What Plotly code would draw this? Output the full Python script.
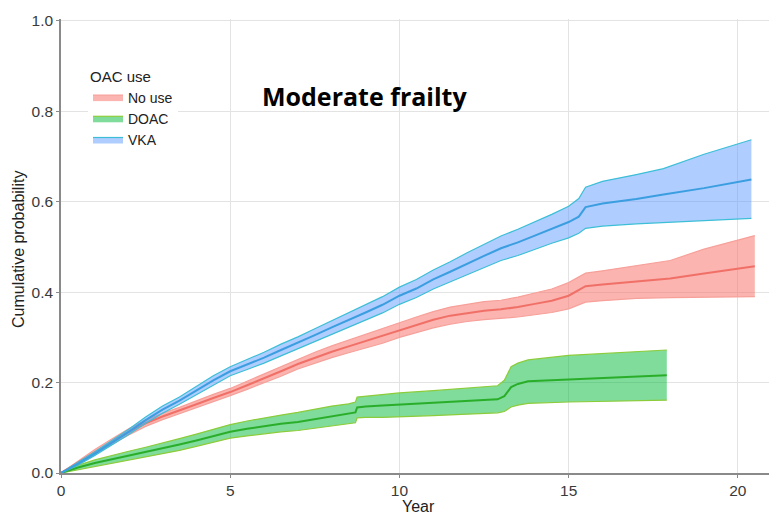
import plotly.graph_objects as go

# ---- data ----
groups = ["No use", "DOAC", "VKA"]

t_nouse = [0, 0.5, 1, 1.5, 2, 2.5, 3, 3.5, 4, 4.5, 5, 5.5, 6, 6.5, 7, 7.5, 8, 8.5, 9, 9.5,
           10, 10.5, 11, 11.5, 12, 12.5, 13, 13.5, 14, 14.5, 15, 15.3, 15.5, 16, 17, 18, 19, 20.5]
est_nouse = [0, 0.023, 0.047, 0.069, 0.091, 0.110, 0.125, 0.138, 0.152, 0.166, 0.179, 0.194,
             0.209, 0.225, 0.241, 0.255, 0.268, 0.280, 0.292, 0.303, 0.316, 0.328, 0.339, 0.348,
             0.354, 0.359, 0.362, 0.367, 0.374, 0.381, 0.392, 0.404, 0.413, 0.417, 0.423, 0.430,
             0.441, 0.457]
lo_nouse = [0, 0.020, 0.042, 0.063, 0.084, 0.103, 0.118, 0.131, 0.144, 0.158, 0.171, 0.185,
            0.199, 0.214, 0.230, 0.243, 0.255, 0.266, 0.277, 0.287, 0.300, 0.311, 0.321, 0.329,
            0.335, 0.339, 0.342, 0.345, 0.350, 0.355, 0.363, 0.372, 0.378, 0.381, 0.386, 0.388,
            0.389, 0.390]
hi_nouse = [0, 0.026, 0.052, 0.075, 0.098, 0.117, 0.132, 0.145, 0.160, 0.174, 0.187, 0.203,
            0.219, 0.236, 0.252, 0.267, 0.281, 0.294, 0.307, 0.319, 0.332, 0.345, 0.357, 0.367,
            0.373, 0.379, 0.382, 0.389, 0.398, 0.407, 0.421, 0.434, 0.442, 0.447, 0.458, 0.470,
            0.495, 0.525]

t_doac = [0, 0.5, 1, 1.5, 2, 2.5, 3, 3.5, 4, 4.5, 5, 5.5, 6, 6.5, 7, 7.5, 8, 8.5, 8.7, 8.75,
          9, 9.5, 10, 11, 12, 12.9, 13.1, 13.3, 13.5, 13.8, 15, 16, 17, 17.9]
est_doac = [0, 0.012, 0.022, 0.030, 0.038, 0.046, 0.054, 0.063, 0.072, 0.082, 0.091, 0.098,
            0.104, 0.109, 0.113, 0.119, 0.125, 0.130, 0.134, 0.145, 0.147, 0.149, 0.151, 0.155,
            0.159, 0.163, 0.170, 0.190, 0.197, 0.203, 0.207, 0.210, 0.213, 0.216]
lo_doac = [0, 0.007, 0.015, 0.021, 0.028, 0.035, 0.042, 0.050, 0.059, 0.068, 0.077, 0.082,
           0.087, 0.091, 0.094, 0.099, 0.104, 0.108, 0.111, 0.122, 0.123, 0.123, 0.124, 0.127,
           0.130, 0.133, 0.136, 0.146, 0.150, 0.154, 0.157, 0.158, 0.160, 0.161]
hi_doac = [0, 0.017, 0.029, 0.039, 0.048, 0.057, 0.066, 0.076, 0.086, 0.097, 0.107, 0.115,
           0.122, 0.128, 0.134, 0.141, 0.148, 0.153, 0.157, 0.168, 0.170, 0.173, 0.177, 0.182,
           0.187, 0.193, 0.205, 0.235, 0.243, 0.250, 0.260, 0.264, 0.268, 0.272]

t_vka = [0, 0.5, 1, 1.5, 2, 2.5, 3, 3.5, 4, 4.5, 5, 5.5, 6, 6.5, 7, 7.5, 8, 8.5, 9, 9.5,
         10, 10.5, 11, 11.5, 12, 12.5, 13, 13.5, 14, 14.5, 15, 15.3, 15.5, 16, 17, 17.8, 19, 20.4]
est_vka = [0, 0.020, 0.043, 0.067, 0.091, 0.117, 0.140, 0.160, 0.182, 0.205, 0.225, 0.240,
           0.255, 0.272, 0.288, 0.305, 0.322, 0.338, 0.355, 0.372, 0.392, 0.408, 0.428, 0.445,
           0.463, 0.480, 0.497, 0.510, 0.525, 0.540, 0.555, 0.567, 0.588, 0.596, 0.606, 0.616,
           0.630, 0.649]
lo_vka = [0, 0.017, 0.039, 0.062, 0.085, 0.110, 0.132, 0.152, 0.173, 0.195, 0.215, 0.229,
          0.243, 0.259, 0.275, 0.291, 0.307, 0.322, 0.338, 0.354, 0.373, 0.388, 0.407, 0.423,
          0.439, 0.455, 0.470, 0.481, 0.495, 0.508, 0.520, 0.530, 0.541, 0.546, 0.551, 0.554,
          0.558, 0.563]
hi_vka = [0, 0.023, 0.047, 0.072, 0.097, 0.124, 0.148, 0.168, 0.191, 0.215, 0.235, 0.251,
          0.267, 0.285, 0.301, 0.319, 0.337, 0.354, 0.372, 0.390, 0.411, 0.428, 0.449, 0.467,
          0.487, 0.505, 0.524, 0.539, 0.555, 0.572, 0.590, 0.607, 0.632, 0.645, 0.660, 0.673,
          0.705, 0.737]

x_ticks = [0, 5, 10, 15, 20]
y_ticks = [0.0, 0.2, 0.4, 0.6, 0.8, 1.0]
y_tick_labels = ["0.0", "0.2", "0.4", "0.6", "0.8", "1.0"]

series = {
    "No use": (t_nouse, est_nouse, lo_nouse, hi_nouse),
    "DOAC": (t_doac, est_doac, lo_doac, hi_doac),
    "VKA": (t_vka, est_vka, lo_vka, hi_vka),
}
styles = {
    "No use": dict(fill="rgba(248,118,109,0.55)", edge="#f7a09a", line="#f07068"),
    "DOAC": dict(fill="rgba(0,186,56,0.5)", edge="#8ccc3a", line="#2aae2a"),
    "VKA": dict(fill="rgba(97,156,255,0.5)", edge="#3cbfd6", line="#3a9ee0"),
}

fig = go.Figure()
for g in groups:
    t, est, lo, hi = series[g]
    s = styles[g]
    fig.add_trace(go.Scatter(x=t, y=lo, mode="lines", line=dict(color=s["edge"], width=1.2),
                             showlegend=False, legendgroup=g, hoverinfo="skip"))
    fig.add_trace(go.Scatter(x=t, y=hi, mode="lines", fill="tonexty", fillcolor=s["fill"],
                             line=dict(color=s["edge"], width=1.2), name=g, legendgroup=g))
    fig.add_trace(go.Scatter(x=t, y=est, mode="lines", line=dict(color=s["line"], width=2),
                             showlegend=False, legendgroup=g))

axis_common = dict(showgrid=True, gridcolor="#e3e3e3", gridwidth=1, zeroline=False,
                   showline=True, linecolor="#8a8a8a", linewidth=1.5,
                   ticks="outside", ticklen=3, tickcolor="#8a8a8a",
                   tickfont=dict(family="Liberation Sans, Arial", size=15.5, color="#3a3a3a"))

fig.update_xaxes(range=[0, 20.92], tickvals=x_ticks, **axis_common)
fig.update_yaxes(range=[0, 1.004], tickvals=y_ticks, ticktext=y_tick_labels, **axis_common)

fig.add_annotation(text="Year", xref="paper", yref="paper", x=(418 - 61) / 708, y=(473 - 506) / 454,
                   showarrow=False, font=dict(family="Liberation Sans, Arial", size=16, color="#222"),
                   xanchor="center", yanchor="middle")
fig.add_annotation(text="Cumulative probability", xref="paper", yref="paper",
                   x=(18 - 61) / 708, y=(473 - 250) / 454, textangle=-90,
                   showarrow=False, font=dict(family="Liberation Sans, Arial", size=16, color="#222"),
                   xanchor="center", yanchor="middle")
fig.add_annotation(text="<b>Moderate frailty</b>", xref="paper", yref="paper",
                   x=(364 - 61) / 708, y=(473 - 96) / 454, showarrow=False,
                   font=dict(family="Open Sans", size=25, color="#000"),
                   xanchor="center", yanchor="middle")

fig.update_layout(
    width=769, height=514,
    margin=dict(l=61, r=0, t=19, b=41),
    paper_bgcolor="white", plot_bgcolor="white",
    legend=dict(title=dict(text="OAC use", font=dict(family="Liberation Sans, Arial", size=15, color="#222")),
                font=dict(family="Liberation Sans, Arial", size=14, color="#222"),
                x=(88 - 61) / 708, y=(473 - 62) / 454, xanchor="left", yanchor="top",
                bgcolor="white", itemwidth=30, tracegroupgap=0),
)

fig.write_html("out.html")
